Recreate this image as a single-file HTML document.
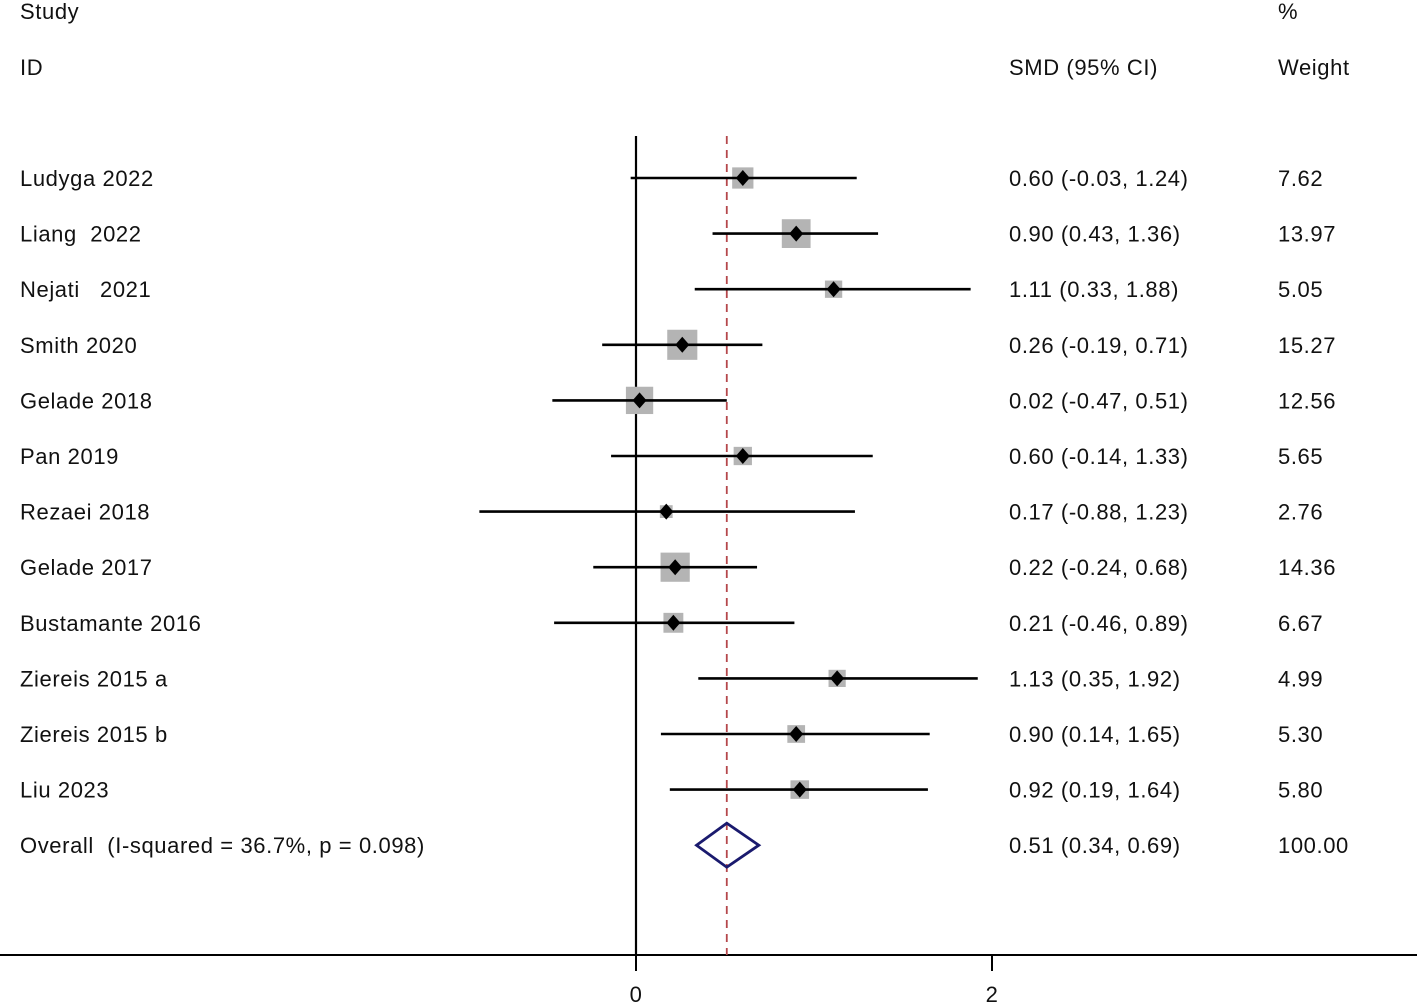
<!DOCTYPE html>
<html><head><meta charset="utf-8"><style>
body{margin:0;background:#fff;}
svg{display:block;font-family:"Liberation Sans",Arial,sans-serif;}
text{font-size:22px;fill:#111;letter-spacing:0.6px;white-space:pre;}
</style></head><body>
<svg id="chart" width="1417" height="1006" viewBox="0 0 1417 1006" xml:space="preserve">
<text x="20" y="19">Study</text>
<text x="20" y="75">ID</text>
<text x="1009" y="75">SMD (95% CI)</text>
<text x="1278" y="19">%</text>
<text x="1278" y="75">Weight</text>
<g id="marks"></g>
</svg>
<script>
const studies=["Ludyga 2022","Liang  2022","Nejati   2021","Smith 2020","Gelade 2018","Pan 2019","Rezaei 2018","Gelade 2017","Bustamante 2016","Ziereis 2015 a","Ziereis 2015 b","Liu 2023"];
const est=[0.60,0.90,1.11,0.26,0.02,0.60,0.17,0.22,0.21,1.13,0.90,0.92];
const lo=[-0.03,0.43,0.33,-0.19,-0.47,-0.14,-0.88,-0.24,-0.46,0.35,0.14,0.19];
const hi=[1.24,1.36,1.88,0.71,0.51,1.33,1.23,0.68,0.89,1.92,1.65,1.64];
const weights=[7.62,13.97,5.05,15.27,12.56,5.65,2.76,14.36,6.67,4.99,5.30,5.80];
const overall=[0.51,0.34,0.69];
const overallLabel="Overall  (I-squared = 36.7%, p = 0.098)";
const xTicks=[0,2];
const NS="http://www.w3.org/2000/svg";
const X=v=>636+v*178;
const Y=i=>178+i*55.6;
const g=document.getElementById('marks');
function mk(t,a){const e=document.createElementNS(NS,t);for(const k in a)e.setAttribute(k,a[k]);g.appendChild(e);return e;}
const fmt=v=>v.toFixed(2);
let e=mk('line',{x1:636,y1:136,x2:636,y2:955,stroke:'#000','stroke-width':2.2});


e=mk('line',{x1:0,y1:955,x2:1417,y2:955,stroke:'#000','stroke-width':2});


xTicks.forEach(t=>{
 let l=mk('line',{x1:X(t),y1:955,x2:X(t),y2:971,stroke:'#000','stroke-width':2});
 
 
 let tx=mk('text',{x:X(t),y:1002,'text-anchor':'middle'});tx.textContent=t;
 
 
});
e=mk('line',{x1:X(overall[0]),y1:136,x2:X(overall[0]),y2:955,stroke:'#b5474b','stroke-width':1.8,'stroke-dasharray':'8,6'});


studies.forEach((s,i)=>{
 const y=Y(i);
 let t=mk('text',{x:20,y:y+8});t.textContent=s;
 
 
 const side=7.7*Math.sqrt(weights[i]);
 let r=mk('rect',{x:X(est[i])-side/2,y:y-side/2,width:side,height:side,fill:'#b4b4b4'});
 
 
 let l=mk('line',{x1:X(lo[i]),y1:y,x2:X(hi[i]),y2:y,stroke:'#000','stroke-width':2.6});
 
 
 const cx=X(est[i]);
 let d=mk('polygon',{points:`${cx-7},${y} ${cx},${y-8} ${cx+7},${y} ${cx},${y+8}`,fill:'#000'});
 
 
 let c=mk('text',{x:1009,y:y+8});c.textContent=`${fmt(est[i])} (${fmt(lo[i])}, ${fmt(hi[i])})`;
 
 
 let w=mk('text',{x:1278,y:y+8});w.textContent=fmt(weights[i]);
 
 
});
const oy=Y(studies.length);
let ot=mk('text',{x:20,y:oy+8});ot.textContent=overallLabel;


let od=mk('polygon',{points:`${X(overall[1])},${oy} ${X(overall[0])},${oy-22} ${X(overall[2])},${oy} ${X(overall[0])},${oy+22}`,fill:'none',stroke:'#1a1a6e','stroke-width':2.8});


let oc=mk('text',{x:1009,y:oy+8});oc.textContent=`${fmt(overall[0])} (${fmt(overall[1])}, ${fmt(overall[2])})`;


let ow=mk('text',{x:1278,y:oy+8});ow.textContent="100.00";


</script>
</body></html>
